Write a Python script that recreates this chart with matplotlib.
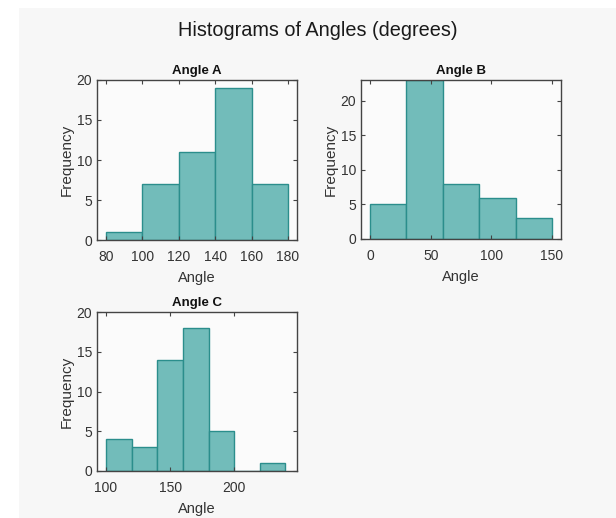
import matplotlib.pyplot as plt
import numpy as np
from matplotlib.patches import Rectangle

plt.rcParams['font.family'] = ['Liberation Sans', 'DejaVu Sans']

# histogram bins and counts
a_edges = [80, 100, 120, 140, 160, 180]
a_counts = [1, 7, 11, 19, 7]
b_edges = [0, 30, 60, 90, 120, 150]
b_counts = [5, 23, 8, 6, 3]
c_edges = [100, 120, 140, 160, 180, 200, 220, 240]
c_counts = [4, 3, 14, 18, 5, 0, 1]

titles = ['Angle A', 'Angle B', 'Angle C']
xticks_all = [[80, 100, 120, 140, 160, 180], [0, 50, 100, 150], [100, 150, 200]]
yticks = [0, 5, 10, 15, 20]

face = '#72bcba'
edge = '#2b8e8c'
bg = '#f7f7f7'

fig = plt.figure(figsize=(6.16, 5.18), dpi=100, facecolor='white')
# gray canvas, leaving a thin white strip on the left and top
fig.patches.append(Rectangle((19 / 616, 0), 1, 1 - 8 / 518, transform=fig.transFigure,
                             facecolor=bg, edgecolor='none', zorder=-10))

fig.text(318 / 616, 1 - 31 / 518, 'Histograms of Angles (degrees)', ha='center', va='center',
         fontsize=14.3, color='#1a1a1a')

positions = [
    [97 / 616, (518 - 240) / 518, 200 / 616, 160 / 518],
    [361 / 616, (518 - 239) / 518, 200 / 616, 159 / 518],
    [97 / 616, (518 - 471) / 518, 200 / 616, 159 / 518],
]
xlims = [(75, 185), (-7.5, 157.5), (93, 249)]
ylims = [(0, 20), (0, 23), (0, 20)]

for i, (edges, counts) in enumerate([(a_edges, a_counts), (b_edges, b_counts), (c_edges, c_counts)]):
    ax = fig.add_axes(positions[i])
    ax.set_facecolor('#fbfbfb')
    e = np.array(edges)
    ax.bar(e[:-1], counts, width=np.diff(e), align='edge', color=face, edgecolor=edge, linewidth=1)
    ax.set_xlim(xlims[i])
    ax.set_ylim(ylims[i])
    ax.set_xticks(xticks_all[i])
    ax.set_yticks(yticks)
    ax.tick_params(direction='in', length=3, width=0.8, top=True, right=True,
                   labelsize=10, labelcolor='#333333', color='#444444')
    ax.tick_params(axis='x', pad=7)
    ax.tick_params(axis='y', pad=3.5)
    for s in ax.spines.values():
        s.set_color('#444444')
        s.set_linewidth(1)
    ax.set_title(titles[i], fontsize=9.5, fontweight='bold', pad=4, color='#111111')
    ax.set_xlabel('Angle', fontsize=10.5, color='#333333', labelpad=5)
    ax.set_ylabel('Frequency', fontsize=11, color='#333333', labelpad=2)

fig.savefig('out.png', dpi=100, facecolor=fig.get_facecolor())
